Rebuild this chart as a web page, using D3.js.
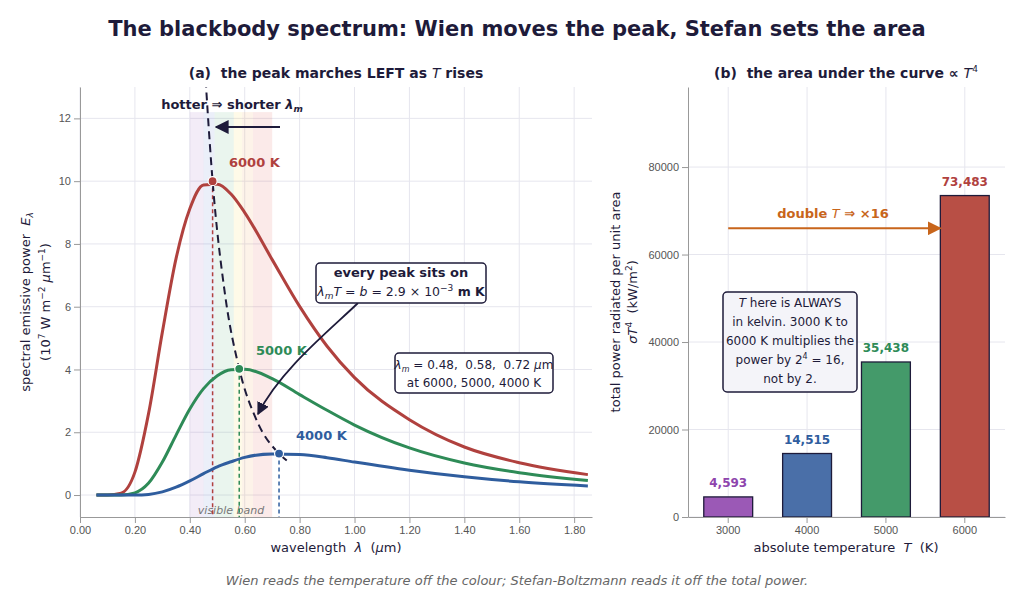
<!DOCTYPE html>
<html><head><meta charset="utf-8">
<script src="https://cdn.jsdelivr.net/npm/d3@7"></script>
<style>
body{margin:0;background:#fff;font-family:"DejaVu Sans",sans-serif;}
.grid line{stroke:#e6e6ee;}
.axis path,.axis line{stroke:#999;}
.axis text{fill:#555;font-size:11px;}
</style></head><body>
<svg id="c" width="1024" height="606"></svg>
<script>
// wavelength grid (um) and curves (units 1e7 W m^-2 um^-1)
var wl    = [0.06,0.10,0.15,0.20,0.25,0.30,0.35,0.40,0.45,0.50,0.55,0.60,0.70,0.80,0.90,1.00,1.20,1.40,1.60,1.85];
var e6000 = [0,0,0.06,0.73,2.61,5.19,7.54,9.12,9.88,9.90,9.59,9.00,7.50,6.01,4.74,3.74,2.40,1.53,1.03,0.65];
var e5000 = [0,0,0,0.07,0.38,1.05,1.91,2.74,3.39,3.80,3.99,4.01,3.71,3.20,2.70,2.23,1.50,1.02,0.71,0.46];
var e4000 = [0,0,0,0,0.02,0.10,0.25,0.45,0.68,0.90,1.06,1.20,1.31,1.29,1.19,1.05,0.79,0.58,0.42,0.29];
var peakWl = [0.483,0.58,0.725];
var peakE  = [10.0,4.02,1.32];
// Wien locus
var locusWl = [0.446,0.483,0.527,0.58,0.644,0.725,0.753];
var locusE  = [14.9,10.0,6.47,4.02,2.37,1.32,1.10];
// right panel
var temps = ["3000","4000","5000","6000"];
var power = [4593,14515,35438,73483];

var curveColors = ["#b0413e","#2e8b57","#2f5d9e"];
var barColors = ["#9b59b6","#4a6fa8","#449a6a","#b84f45"];
var labelColors = ["#8e44ad","#2f5d9e","#2e8b57","#b0413e"];

var svg = d3.select("#c");
var ink = "#1e1b3a";

svg.append("text").attr("x",517).attr("y",36).attr("text-anchor","middle")
  .attr("font-size",21).attr("font-weight","bold").attr("fill",ink)
  .text("The blackbody spectrum: Wien moves the peak, Stefan sets the area");
svg.append("text").attr("x",517).attr("y",585).attr("text-anchor","middle")
  .attr("font-size",13).attr("font-style","italic").attr("fill","#666")
  .text("Wien reads the temperature off the colour; Stefan-Boltzmann reads it off the total power.");

// ---------- left panel
var L = {l:80,r:592,t:87,b:517};
var x = d3.scaleLinear().domain([0,1.865]).range([L.l,L.r]);
var y = d3.scaleLinear().domain([-0.7,13]).range([L.b,L.t]);

var defs = svg.append("defs");
defs.append("clipPath").attr("id","clipL").append("rect")
  .attr("x",L.l).attr("y",L.t).attr("width",L.r-L.l).attr("height",L.b-L.t);
defs.append("marker").attr("id","ah").attr("viewBox","0 0 10 10").attr("refX",9).attr("refY",5)
  .attr("markerWidth",7).attr("markerHeight",7).attr("orient","auto")
  .append("path").attr("d","M0,0L10,5L0,10z").attr("fill",ink);
defs.append("marker").attr("id","aho").attr("viewBox","0 0 10 10").attr("refX",9).attr("refY",5)
  .attr("markerWidth",7).attr("markerHeight",7).attr("orient","auto")
  .append("path").attr("d","M0,0L10,5L0,10z").attr("fill","#c8651b");

var gL = svg.append("g");
gL.append("g").attr("class","grid").selectAll("line").data(x.ticks(8)).join("line")
  .attr("x1",d=>x(d)).attr("x2",d=>x(d)).attr("y1",L.t).attr("y2",L.b);
gL.append("g").attr("class","grid").selectAll("line").data(d3.range(0,13,2)).join("line")
  .attr("y1",d=>y(d)).attr("y2",d=>y(d)).attr("x1",L.l).attr("x2",L.r);

// visible band
var band = ["#8e44ad","#3b5fc0","#2e9e5b","#f1d21b","#f08a24","#d8342c"];
var bandEdges = [0.40,0.45,0.49,0.56,0.59,0.63,0.70];
gL.selectAll(".band").data(band).join("rect")
  .attr("x",(d,i)=>x(bandEdges[i])).attr("width",(d,i)=>x(bandEdges[i+1])-x(bandEdges[i]))
  .attr("y",y(12.2)).attr("height",y(-0.7)-y(12.2)).attr("fill",d=>d).attr("opacity",0.1);
gL.append("text").attr("x",x(0.55)).attr("y",y(-0.6)).attr("text-anchor","middle")
  .attr("font-size",11).attr("font-style","italic").attr("fill","#777").text("visible band");

var line = d3.line().x(d=>x(d[0])).y(d=>y(d[1])).curve(d3.curveMonotoneX);
[e6000,e5000,e4000].forEach(function(s,i){
  gL.append("path").datum(wl.map((w,j)=>[w,s[j]])).attr("d",line)
    .attr("fill","none").attr("stroke",curveColors[i]).attr("stroke-width",3);
  gL.append("line").attr("x1",x(peakWl[i])).attr("x2",x(peakWl[i]))
    .attr("y1",y(peakE[i])).attr("y2",L.b).attr("stroke",curveColors[i])
    .attr("stroke-width",1.5).attr("stroke-dasharray","4,3");
});
gL.append("path").attr("clip-path","url(#clipL)")
  .datum(locusWl.map((w,j)=>[w,locusE[j]]))
  .attr("d",d3.line().x(d=>x(d[0])).y(d=>y(d[1])).curve(d3.curveMonotoneX))
  .attr("fill","none").attr("stroke",ink).attr("stroke-width",2).attr("stroke-dasharray","8,5");
gL.selectAll(".pk").data(peakWl).join("circle").attr("cx",d=>x(d)).attr("cy",(d,i)=>y(peakE[i]))
  .attr("r",4.5).attr("fill",(d,i)=>curveColors[i]).attr("stroke","#fff").attr("stroke-width",1.2);

gL.append("g").attr("class","axis").attr("transform","translate(0,"+L.b+")")
  .call(d3.axisBottom(x).ticks(8).tickFormat(d3.format(".2f")).tickSizeOuter(0));
gL.append("g").attr("class","axis").attr("transform","translate("+L.l+",0)")
  .call(d3.axisLeft(y).tickValues(d3.range(0,13,2)).tickSizeOuter(0));

gL.append("text").attr("x",336).attr("y",78).attr("text-anchor","middle").attr("font-size",14)
  .attr("font-weight","bold").attr("fill",ink)
  .html('(a)&#160; the peak marches LEFT as <tspan font-style="italic" font-weight="normal">T</tspan> rises');
gL.append("text").attr("x",336).attr("y",552).attr("text-anchor","middle").attr("font-size",13).attr("fill",ink)
  .html('wavelength &#160;<tspan font-style="italic">λ</tspan>&#160; (<tspan font-style="italic">μ</tspan>m)');
var yl = gL.append("text").attr("transform","translate(30,302) rotate(-90)").attr("text-anchor","middle")
  .attr("font-size",13).attr("fill",ink);
yl.append("tspan").attr("x",0).attr("dy",0).html('spectral emissive power &#160;<tspan font-style="italic">E</tspan><tspan font-size="9" dy="3" font-style="italic">λ</tspan>');
yl.append("tspan").attr("x",0).attr("dy",17).html('(10<tspan font-size="9" dy="-5">7</tspan><tspan dy="5"> W m</tspan><tspan font-size="9" dy="-5">−2</tspan><tspan dy="5"> </tspan><tspan font-style="italic">μ</tspan>m<tspan font-size="9" dy="-5">−1</tspan><tspan dy="5">)</tspan>');

gL.append("text").attr("x",232).attr("y",109).attr("text-anchor","middle").attr("font-size",13)
  .attr("font-weight","bold").attr("fill",ink)
  .html('hotter ⇒ shorter <tspan font-style="italic">λ</tspan><tspan font-size="9" dy="3" font-style="italic">m</tspan>');
gL.append("line").attr("x1",280).attr("y1",127).attr("x2",216).attr("y2",127)
  .attr("stroke",ink).attr("stroke-width",2).attr("marker-end","url(#ah)");

[["6000 K",229,167],["5000 K",256,355],["4000 K",296,440]].forEach(function(t,i){
  gL.append("text").attr("x",t[1]).attr("y",t[2]).attr("font-size",13).attr("font-weight","bold")
    .attr("fill",curveColors[i]).text(t[0]);
});

// callout boxes
gL.append("path").attr("d","M358,303 C330,330 280,370 258,414").attr("fill","none")
  .attr("stroke",ink).attr("stroke-width",1.8).attr("marker-end","url(#ah)");
gL.append("rect").attr("x",316).attr("y",263).attr("width",170).attr("height",40).attr("rx",4)
  .attr("fill","#fff").attr("stroke",ink).attr("stroke-width",1.5);
gL.append("text").attr("x",401).attr("y",277).attr("text-anchor","middle").attr("font-size",13)
  .attr("font-weight","bold").attr("fill",ink).text("every peak sits on");
gL.append("text").attr("x",401).attr("y",296).attr("text-anchor","middle").attr("font-size",12.5)
  .attr("fill",ink).html('<tspan font-style="italic">λ</tspan><tspan font-size="9" dy="3" font-style="italic">m</tspan><tspan dy="-3" font-style="italic">T</tspan> = <tspan font-style="italic">b</tspan> = 2.9 × 10<tspan font-size="9" dy="-5">−3</tspan><tspan dy="5" font-weight="bold"> m K</tspan>');

gL.append("rect").attr("x",395).attr("y",353).attr("width",158).attr("height",40).attr("rx",4)
  .attr("fill","#fff").attr("stroke",ink).attr("stroke-width",1.5);
gL.append("text").attr("x",474).attr("y",369).attr("text-anchor","middle").attr("font-size",12)
  .attr("fill",ink).html('<tspan font-style="italic">λ</tspan><tspan font-size="8" dy="3" font-style="italic">m</tspan><tspan dy="-3"> = 0.48, &#160;0.58, &#160;0.72 </tspan><tspan font-style="italic">μ</tspan>m');
gL.append("text").attr("x",474).attr("y",387).attr("text-anchor","middle").attr("font-size",12)
  .attr("fill",ink).text("at 6000, 5000, 4000 K");

// ---------- right panel
var R = {l:688,r:1005,t:87,b:517};
var xb = d3.scaleBand().domain(temps).range([R.l,R.r]).paddingInner(0.38).paddingOuter(0.2);
var yb = d3.scaleLinear().domain([0,98300]).range([R.b,R.t]);
var gR = svg.append("g");
gR.append("g").attr("class","grid").selectAll("line").data(temps).join("line")
  .attr("x1",d=>xb(d)+xb.bandwidth()/2).attr("x2",d=>xb(d)+xb.bandwidth()/2).attr("y1",R.t).attr("y2",R.b);
gR.append("g").attr("class","grid").selectAll("line").data(d3.range(0,90000,20000)).join("line")
  .attr("y1",d=>yb(d)).attr("y2",d=>yb(d)).attr("x1",R.l).attr("x2",R.r);
gR.selectAll(".bar").data(power).join("rect")
  .attr("x",(d,i)=>xb(temps[i])).attr("width",xb.bandwidth())
  .attr("y",d=>yb(d)).attr("height",d=>yb(0)-yb(d))
  .attr("fill",(d,i)=>barColors[i]).attr("stroke",ink).attr("stroke-width",1.3);
gR.selectAll(".vl").data(power).join("text")
  .attr("x",(d,i)=>xb(temps[i])+xb.bandwidth()/2).attr("y",d=>yb(d)-10)
  .attr("text-anchor","middle").attr("font-size",12).attr("font-weight","bold")
  .attr("fill",(d,i)=>labelColors[i]).text(d=>d3.format(",")(d));
gR.append("g").attr("class","axis").attr("transform","translate(0,"+R.b+")")
  .call(d3.axisBottom(xb).tickSizeOuter(0));
gR.append("g").attr("class","axis").attr("transform","translate("+R.l+",0)")
  .call(d3.axisLeft(yb).tickValues(d3.range(0,90000,20000)).tickFormat(d3.format("d")).tickSizeOuter(0));

gR.append("text").attr("x",846).attr("y",78).attr("text-anchor","middle").attr("font-size",14)
  .attr("font-weight","bold").attr("fill",ink)
  .html('(b)&#160; the area under the curve ∝ <tspan font-style="italic" font-weight="normal">T</tspan><tspan font-size="9" dy="-6" font-weight="normal">4</tspan>');
gR.append("text").attr("x",846).attr("y",552).attr("text-anchor","middle").attr("font-size",13).attr("fill",ink)
  .html('absolute temperature &#160;<tspan font-style="italic">T</tspan>&#160; (K)');
var yr = gR.append("text").attr("transform","translate(620,302) rotate(-90)").attr("text-anchor","middle")
  .attr("font-size",13).attr("fill",ink);
yr.append("tspan").attr("x",0).attr("dy",0).text("total power radiated per unit area");
yr.append("tspan").attr("x",0).attr("dy",17).html('<tspan font-style="italic">σT</tspan><tspan font-size="9" dy="-5">4</tspan><tspan dy="5">&#160; (kW/m</tspan><tspan font-size="9" dy="-5">2</tspan><tspan dy="5">)</tspan>');

gR.append("line").attr("x1",xb("3000")+xb.bandwidth()/2).attr("x2",xb("6000")).attr("y1",yb(66000)).attr("y2",yb(66000))
  .attr("stroke","#c8651b").attr("stroke-width",2).attr("marker-end","url(#aho)");
gR.append("text").attr("x",833).attr("y",218).attr("text-anchor","middle").attr("font-size",13)
  .attr("font-weight","bold").attr("fill","#c8651b")
  .html('double <tspan font-style="italic" font-weight="normal">T</tspan> ⇒ ×16');

gR.append("rect").attr("x",723).attr("y",292).attr("width",134).attr("height",100).attr("rx",4)
  .attr("fill","#f4f4f9").attr("stroke",ink).attr("stroke-width",1.5);
var bl = ['<tspan font-style="italic">T</tspan> here is ALWAYS','in kelvin. 3000 K to','6000 K multiplies the',
  'power by 2<tspan font-size="8" dy="-5">4</tspan><tspan dy="5"> = 16,</tspan>','not by 2.'];
bl.forEach(function(t,i){
  gR.append("text").attr("x",790).attr("y",307+i*19).attr("text-anchor","middle").attr("font-size",12)
    .attr("fill",ink).html(t);
});
</script></body></html>
